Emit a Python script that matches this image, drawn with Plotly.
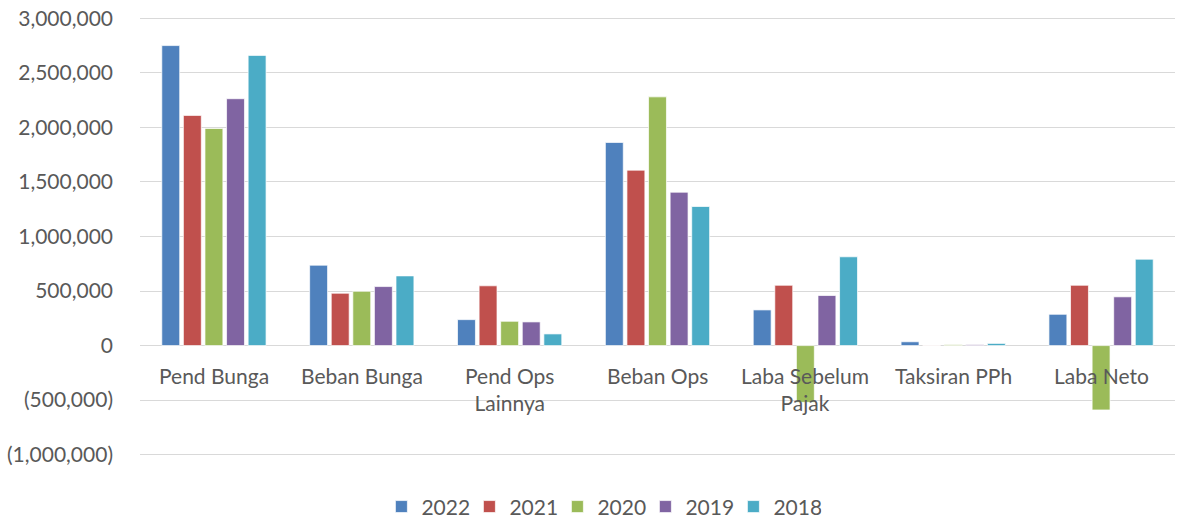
import plotly.graph_objects as go

categories = ["Pend Bunga", "Beban Bunga", "Pend Ops<br>Lainnya", "Beban Ops",
              "Laba Sebelum<br>Pajak", "Taksiran PPh", "Laba Neto"]
years = ["2022", "2021", "2020", "2019", "2018"]
v2022 = [2750000, 737000, 238000, 1862000, 327000, 35000, 287000]
v2021 = [2110000, 480000, 548000, 1608000, 553000, 2000, 553000]
v2020 = [1990000, 498000, 223000, 2280000, -520000, 8000, -590000]
v2019 = [2263000, 541000, 217000, 1406000, 459000, 8000, 447000]
v2018 = [2660000, 639000, 107000, 1275000, 814000, 20000, 792000]
series = [v2022, v2021, v2020, v2019, v2018]
colors = ["#4F81BD", "#C0504D", "#9BBB59", "#8064A2", "#4BACC6"]

tick_vals = [-1000000, -500000, 0, 500000, 1000000, 1500000, 2000000, 2500000, 3000000]
tick_text = ["(1,000,000)", "(500,000)", "0", "500,000", "1,000,000", "1,500,000",
             "2,000,000", "2,500,000", "3,000,000"]

FONT = "Lato"
TXT = "#595959"

fig = go.Figure()
xs = list(range(len(categories)))
for name, vals, col in zip(years, series, colors):
    fig.add_trace(go.Bar(x=xs, y=vals, name=name,
                         marker=dict(color=col, line=dict(color="rgba(255,255,255,0.7)", width=1))))

for i, c in enumerate(categories):
    fig.add_annotation(x=i, y=0, xref="x", yref="y", text=c, showarrow=False,
                       yanchor="top", xanchor="center", yshift=-15,
                       font=dict(family=FONT, size=21, color=TXT))

fig.update_layout(
    width=1177, height=521,
    margin=dict(l=140, r=2, t=17, b=65, autoexpand=False),
    paper_bgcolor="white", plot_bgcolor="white",
    barmode="group", bargap=0.27, bargroupgap=0.17,
    font=dict(family=FONT, size=21, color=TXT),
    showlegend=True,
    legend=dict(orientation="h", x=0.4458, xanchor="center", y=-0.116, yanchor="middle",
                font=dict(family=FONT, size=21, color=TXT), itemwidth=30,
                entrywidth=43, entrywidthmode="pixels",
                traceorder="normal"),
    xaxis=dict(range=[-0.5, len(categories) - 0.5], showticklabels=False, showgrid=False,
               zeroline=False, showline=False, ticks="", automargin=False),
    yaxis=dict(range=[-1012000, 3012000], tickvals=tick_vals, ticktext=tick_text,
               showgrid=True, gridcolor="#D9D9D9", gridwidth=1.3,
               zeroline=True, zerolinecolor="#D9D9D9", zerolinewidth=1.3,
               showline=False, ticks="", ticklabelstandoff=26, automargin=False,
               tickfont=dict(family=FONT, size=21, color=TXT)),
)

fig.write_html("out.html", config={"displayModeBar": False},
               post_script="document.body.style.margin='0px';")
